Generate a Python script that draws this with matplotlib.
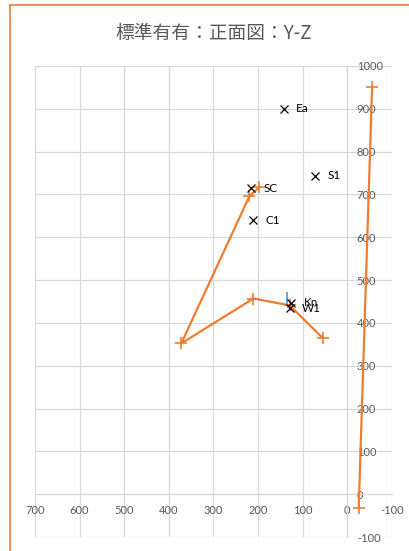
import numpy as np
import matplotlib
matplotlib.use("Agg")
import matplotlib.pyplot as plt
from matplotlib.lines import Line2D

plt.rcParams['font.family'] = ['Lato', 'Noto Sans CJK JP', 'DejaVu Sans']
plt.rcParams['axes.unicode_minus'] = False

# orange path (Y, Z)
path_y = [197, 219, 372, 210, 129, 55]
path_z = [717, 696, 352, 457, 441, 365]
# separate orange segment
seg_y = [-56, -26]
seg_z = [950, -33]
# blue short segment
blue_y = [134, 134]
blue_z = [441, 469]
# labelled points
pt_names = ['Ea', 'S1', 'SC', 'C1', 'Kn', 'W1']
pt_y = [142, 71, 215, 212, 126, 129]
pt_z = [900, 744, 714, 640, 447, 434]

x_ticks = np.arange(700, -101, -100)
y_ticks = np.arange(-100, 1001, 100)

orange = '#ED7D31'
gray_txt = '#595959'
grid_c = '#D9D9D9'

fig = plt.figure(figsize=(4.09, 5.51), dpi=100)
ax = fig.add_axes([35 / 409, 1 - 537 / 551, 356.7 / 409, 471 / 551])

ax.set_xlim(700, -100)
ax.set_ylim(-100, 1000)
ax.set_xticks(x_ticks)
ax.set_yticks(y_ticks)
ax.set_xticklabels([str(v) for v in x_ticks])
ax.set_yticklabels([str(v) for v in y_ticks])
ax.grid(True, color=grid_c, lw=0.9, zorder=0)
ax.set_axisbelow(True)

for s in ['top', 'left']:
    ax.spines[s].set_visible(False)
ax.spines['bottom'].set_position(('data', 0))
ax.spines['right'].set_position(('data', 0))
ax.spines['bottom'].set_color(grid_c)
ax.spines['right'].set_color(grid_c)
ax.yaxis.set_ticks_position('right')
ax.tick_params(axis='x', length=0, pad=8, labelsize=8, labelcolor=gray_txt)
ax.tick_params(axis='y', length=0, pad=7, labelsize=8, labelcolor=gray_txt)
for lab in ax.get_yticklabels():
    lab.set_horizontalalignment('left')

ax.plot(path_y, path_z, color=orange, lw=1.6, marker='+', ms=9, mew=1.2, zorder=3)
ax.plot(seg_y, seg_z, color=orange, lw=1.6, marker='+', ms=9, mew=1.2, zorder=3)
ax.plot(blue_y, blue_z, color='#5B9BD5', lw=1.3, zorder=3)
ax.plot(pt_y, pt_z, ls='none', marker='x', ms=6, mew=0.9, color='black', zorder=4)
for n, xv, yv in zip(pt_names, pt_y, pt_z):
    ax.annotate(n, (xv, yv), xytext=(9, 0), textcoords='offset points',
                ha='left', va='center', fontsize=8.5, color='black', zorder=5)

fig.text(214 / 409, 1 - 33 / 551, '標準有有：正面図：Y-Z', ha='center', va='center',
         fontsize=13.5, color=gray_txt, family=['Noto Sans CJK JP', 'DejaVu Sans'])

# chart border (partially visible)
fig.add_artist(Line2D([10 / 409, 10 / 409], [0, 1 - 4.5 / 551], transform=fig.transFigure,
                      color=orange, lw=1.2))
fig.add_artist(Line2D([10 / 409, 1], [1 - 4.5 / 551, 1 - 4.5 / 551], transform=fig.transFigure,
                      color=orange, lw=1.2))

fig.savefig('out.png', dpi=100)
